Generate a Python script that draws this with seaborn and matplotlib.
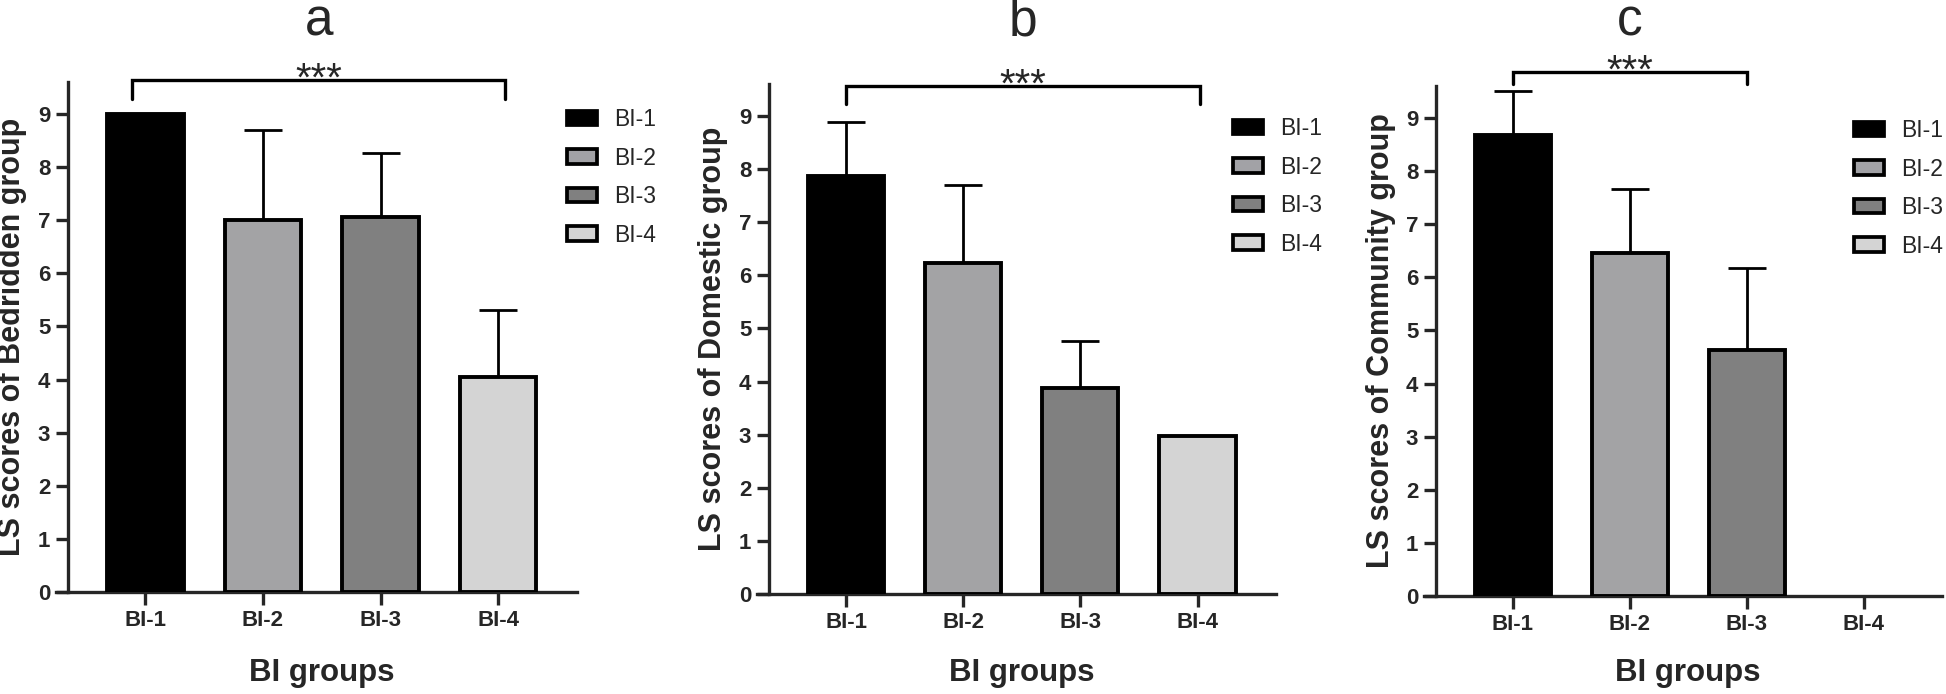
import numpy as np
import pandas as pd
import matplotlib
matplotlib.use("Agg")
import matplotlib.pyplot as plt
from matplotlib.patches import Patch
import seaborn as sns

# dati
groups = ["BI-1", "BI-2", "BI-3", "BI-4"]
bedridden_mean = [9.0, 7.0, 7.05, 4.05]
bedridden_sd = [0.0, 1.7, 1.22, 1.25]
domestic_mean = [7.87, 6.24, 3.88, 2.98]
domestic_sd = [1.02, 1.46, 0.88, 0.0]
community_mean = [8.68, 6.46, 4.63, 0.0]
community_sd = [0.82, 1.21, 1.54, 0.0]

panel_letters = ["a", "b", "c"]
ylabels = ["LS scores of Bedridden group", "LS scores of Domestic group",
           "LS scores of Community group"]
xlabel = "BI groups"
bracket_ends = [(-0.11, 3.06), (0.0, 3.02), (0.0, 2.0)]
bracket_y = [(9.64, 9.28), (9.57, 9.23), (9.87, 9.63)]
stars = "***"

colors = ["#000000", "#a2a2a6", "#808080", "#d4d4d4"]

sns.set_style("ticks")
plt.rcParams["font.family"] = ["Liberation Sans", "DejaVu Sans"]

W, H = 1946, 694
fig = plt.figure(figsize=(W / 100, H / 100), dpi=100)

# posizioni assi (pixel): inizio asse x, fine asse x, linea dello zero
axes_px = [(56, 577), (757, 1276), (1424, 1942)]
bottoms_px = [592, 594, 596]
height_px = 510
legend_pos = [(567, 108), (1233, 117), (1854, 119)]

panels = [(bedridden_mean, bedridden_sd), (domestic_mean, domestic_sd),
          (community_mean, community_sd)]

for i, (means, sds) in enumerate(panels):
    x0, x1 = axes_px[i]
    b = bottoms_px[i]
    ax = fig.add_axes([x0 / W, (H - b) / H, (x1 - x0) / W, height_px / H])
    df = pd.DataFrame({"group": groups, "score": means})
    sns.barplot(data=df, x="group", y="score", hue="group", palette=colors,
                order=groups, hue_order=groups, width=0.65, errorbar=None,
                edgecolor="black", linewidth=2.8, legend=False, ax=ax, zorder=3)
    for p in ax.patches:
        if p.get_height() == 0:
            p.set_visible(False)

    pos = np.arange(len(groups))
    sd = np.array(sds)
    m = np.array(means)
    has = sd > 0
    ax.errorbar(pos[has], m[has], yerr=[np.zeros(has.sum()), sd[has]],
                fmt="none", ecolor="black", elinewidth=2.0, capsize=13.5,
                capthick=2.0, zorder=2)

    ax.set_xlim(-0.76, 3.67)
    ax.set_ylim(0, 9.6)
    ax.set_yticks(range(10))
    sns.despine(ax=ax)
    ax.spines["left"].set_position(("data", -0.655))
    ax.spines["left"].set_bounds(0, 9.6)
    for s in ["left", "bottom"]:
        ax.spines[s].set_linewidth(2.4)
    ax.tick_params(axis="both", width=2.4, length=9, labelsize=16, pad=4)
    for lab in ax.get_xticklabels() + ax.get_yticklabels():
        lab.set_fontweight("bold")

    ax.set_ylabel(ylabels[i], fontsize=22, fontweight="bold")
    ax.yaxis.set_label_coords(-0.055, 0.5)
    ax.set_xlabel(xlabel, fontsize=22.5, fontweight="bold")
    ax.xaxis.set_label_coords(0.51, -(658 - b) / height_px)

    # parentesi di significatività
    bl, br = bracket_ends[i]
    yl, yt = bracket_y[i]
    ax.plot([bl, bl, br, br], [yt, yl, yl, yt], color="black", lw=2.4,
            clip_on=False, solid_joinstyle="miter")
    xm = (bl + br) / 2
    ax.text(xm, yl - 0.2, stars, ha="center", va="baseline", fontsize=29,
            clip_on=False)
    ax.text(xm, (b - 35) / height_px, panel_letters[i],
            transform=ax.get_xaxis_transform(),
            ha="center", va="baseline", fontsize=37)

    handles = [Patch(facecolor=c, edgecolor="black", linewidth=2.7, label=g)
               for c, g in zip(colors, groups)]
    lx, ly = legend_pos[i]
    fig.legend(handles=handles, loc="upper left",
               bbox_to_anchor=(lx / W, 1 - ly / H), frameon=False,
               fontsize=16.5, handlelength=1.3, handleheight=0.6,
               handletextpad=0.75, labelspacing=0.68, borderpad=0,
               borderaxespad=0)

fig.savefig("out.png", dpi=100)
